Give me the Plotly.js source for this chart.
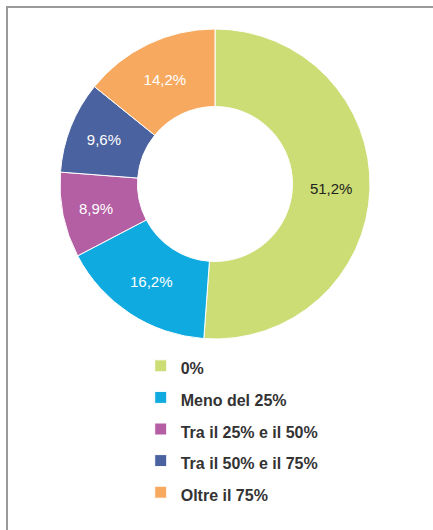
<!DOCTYPE html>
<html>
<head>
<meta charset="utf-8">
<script src="https://cdn.plot.ly/plotly-3.0.1.min.js"></script>
<style>
  html, body { margin: 0; padding: 0; background: #fff; }
  #wrap { position: relative; width: 433px; height: 530px; }
  #chart { width: 433px; height: 530px; }
  #frame { position: absolute; left: 6px; top: 6px; right: 0; bottom: 0;
           border-left: 2px solid #9a9a9a; border-top: 2px solid #9a9a9a; pointer-events: none; }
</style>
</head>
<body>
<div id="wrap">
  <div id="chart"></div>
  <div id="frame"></div>
</div>
<script>
const categories = ["0%", "Meno del 25%", "Tra il 25% e il 50%", "Tra il 50% e il 75%", "Oltre il 75%"];
const values = [51.2, 16.2, 8.9, 9.6, 14.2];
const colors = ["#cbdd74", "#0eaae0", "#b45ea4", "#4a629f", "#f7a960"];
const labelColors = ["#222222", "#ffffff", "#ffffff", "#ffffff", "#ffffff"];

const legendLabels = categories.map(c => '<span style="font-size:16px">' + c + '</span>');

const trace = {
  type: 'pie',
  labels: legendLabels,
  values: values,
  sort: false,
  direction: 'clockwise',
  rotation: 0,
  hole: 0.5,
  marker: { colors: colors, line: { color: '#ffffff', width: 1 } },
  texttemplate: '%{value:.1f}%',
  textposition: 'inside',
  insidetextorientation: 'horizontal',
  insidetextfont: { family: 'Liberation Sans, Arial, sans-serif', size: 15, color: labelColors },
  domain: { x: [60/433, 370/433], y: [1 - 339/530, 1 - 29/530] },
  hoverinfo: 'label+value'
};

const layout = {
  width: 433, height: 530,
  margin: { l: 0, r: 0, t: 0, b: 0 },
  paper_bgcolor: '#ffffff',
  separators: ',.',
  showlegend: true,
  legend: {
    orientation: 'v',
    x: 0.325, xanchor: 'left',
    y: 1 - 345/530, yanchor: 'top',
    font: { family: 'Liberation Sans, Arial, sans-serif', size: 22, color: '#333333', weight: 'bold' },
    bgcolor: 'rgba(0,0,0,0)',
    traceorder: 'normal'
  }
};

Plotly.newPlot('chart', [trace], layout, { displayModeBar: false, staticPlot: true });
</script>
</body>
</html>
